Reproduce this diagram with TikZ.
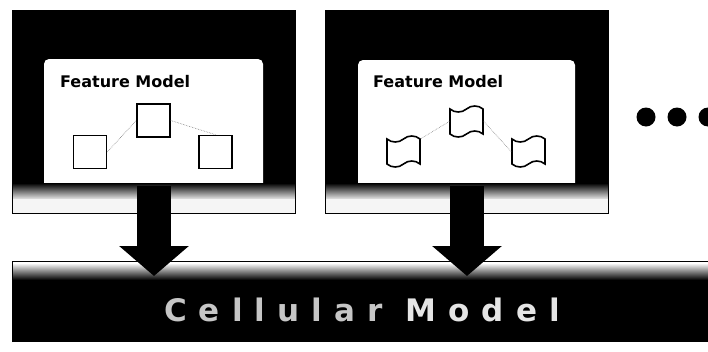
\documentclass[tikz,border=0pt]{standalone}
\usepackage{fontspec}
\setsansfont{DejaVu Sans}
\usetikzlibrary{arrows.meta,shapes.symbols}

\tikzset{
  feat/.style={draw, line width=1.6pt, fill=white, minimum width=33pt, minimum height=33pt, inner sep=0pt},
  flag/.style={tape, draw, line width=1.6pt, fill=white, minimum width=33pt, minimum height=31pt, inner sep=0pt, tape bend height=6pt},
  link/.style={gray, line width=0.6pt, densely dotted},
  bigarrow/.style={line width=34pt, -{Triangle[width=68pt,length=30pt]}},
  fmtitle/.style={anchor=base west, inner sep=0pt, font=\sffamily\bfseries\fontsize{16}{16}\selectfont},
}

\begin{document}
\begin{tikzpicture}[x=1pt, y=-1pt]
\useasboundingbox (0,0) rectangle (708,351);
\clip (0,0) rectangle (708,351);

% first feature model frame
\fill[black] (12,10) rectangle (295,190);
\fill[white, rounded corners=5pt] (44,59) rectangle (263,190);
\shade[top color=black, bottom color=gray!20] (12,183) rectangle (295,199);
\fill[gray!8] (12,199) rectangle (295,213);
\draw[line width=0.8pt] (12,10) rectangle (295,213);

% second feature model frame
\fill[black] (325,10) rectangle (608,190);
\fill[white, rounded corners=5pt] (358,60) rectangle (575,190);
\shade[top color=black, bottom color=gray!20] (325,183) rectangle (608,199);
\fill[gray!8] (325,199) rectangle (608,213);
\draw[line width=0.8pt] (325,10) rectangle (608,213);

% cellular model bar
\fill[black] (12,272) rectangle (708,342);
\shade[top color=white, bottom color=black] (12,263) rectangle (708,280);
\draw[line width=0.8pt] (12,342) -- (12,261) -- (708,261);

\node[fmtitle] (t1) at (60,87) {Feature Model};
\node[fmtitle] (t2) at (373,87) {Feature Model};

\node[feat] (c1) at (153.5,120.5) {};
\node[feat] (l1) at (90,152) {};
\node[feat] (r1) at (215.5,152) {};
\draw[link] (l1.east) -- (c1.west);
\draw[link] (c1.east) -- (r1.north);

\node[flag] (c2) at (466.5,121.5) {};
\node[flag] (l2) at (403.5,151.5) {};
\node[flag] (r2) at (528.5,151.5) {};
\draw[link] (c2.west) -- (l2.north east);
\draw[link] (c2.east) -- (r2.west);

\foreach \x in {646,677,708}
  \fill (\x,117) circle (9.5);

\coordinate (fm1) at (154,186);
\coordinate (fm2) at (467,186);
\coordinate (cm1) at (154,276);
\coordinate (cm2) at (467,276);
\draw[bigarrow] (fm1) -- (cm1);
\draw[bigarrow] (fm2) -- (cm2);

\node[anchor=base, inner sep=0pt, font=\sffamily\bfseries\fontsize{31}{31}\selectfont\addfontfeatures{LetterSpace=39}] (cm) at (362,321)
  {\textcolor{gray!45}{Cellular} \textcolor{white!90!black}{Model}};

\end{tikzpicture}
\end{document}
